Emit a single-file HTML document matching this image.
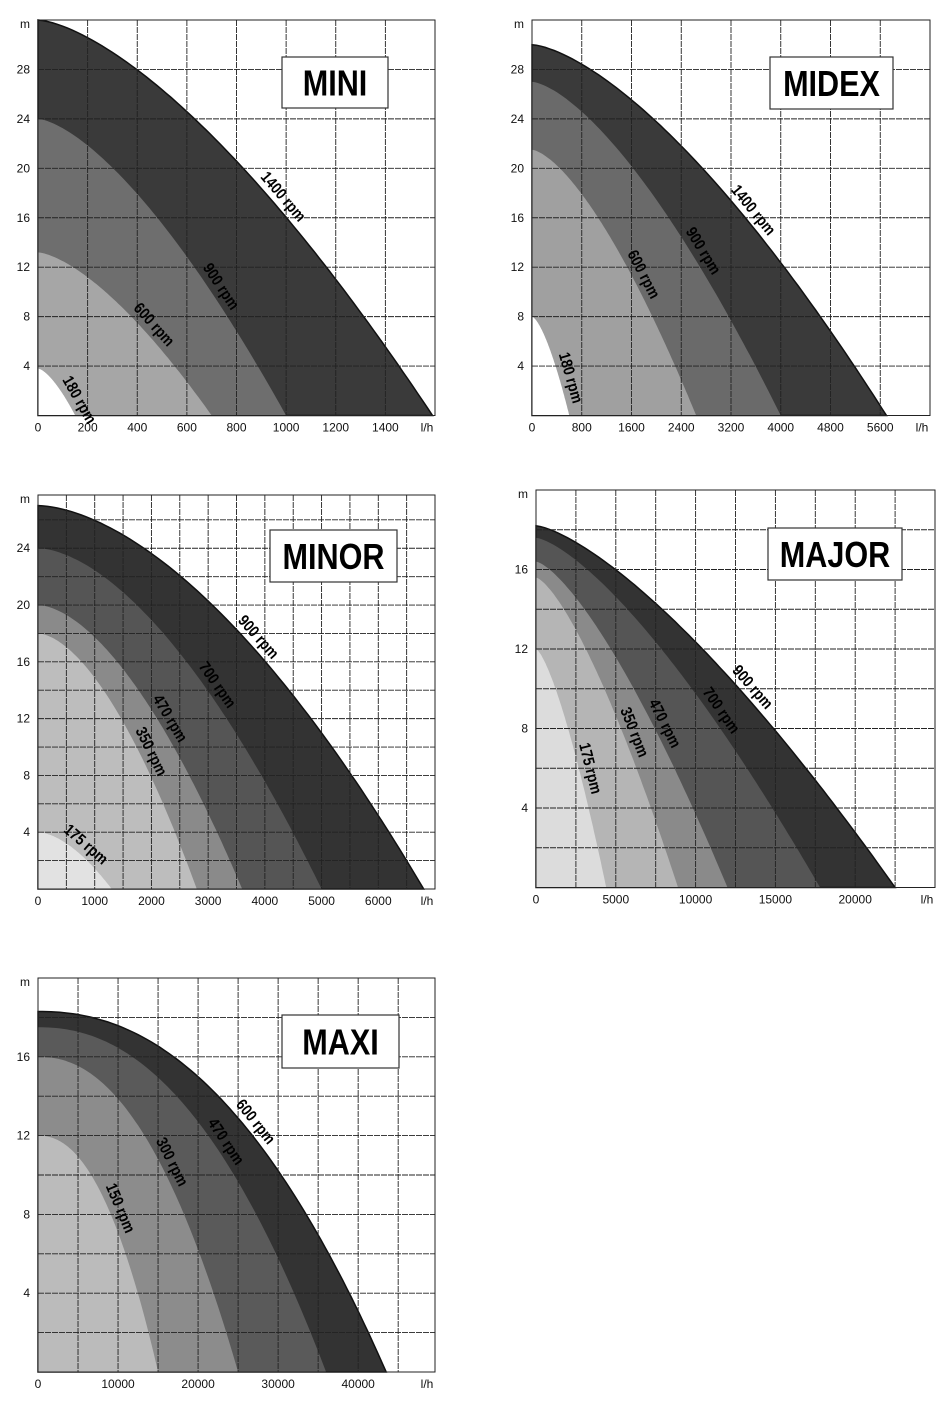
<!DOCTYPE html>
<html><head><meta charset="utf-8">
<style>
body{margin:0;background:#fff;}
svg{display:block;font-family:"Liberation Sans",sans-serif;}
.tick{font-size:12px;fill:#111;}
.rpm{font-size:16px;font-weight:bold;fill:#000;}
.title{font-size:36px;font-weight:bold;fill:#000;}
</style></head>
<body>
<svg id="chart" width="951" height="1407" viewBox="0 0 951 1407" xmlns="http://www.w3.org/2000/svg"></svg>
<script>
// ---- data ----
const chartNames = ["MINI","MIDEX","MINOR","MAJOR","MAXI"];
const miniRpm = ["1400 rpm","900 rpm","600 rpm","180 rpm"];
const miniHead = [32, 24, 13.2, 3.8];
const miniFlow = [1590, 1000, 700, 150];
const midexRpm = ["1400 rpm","900 rpm","600 rpm","180 rpm"];
const midexHead = [30, 27, 21.5, 8];
const midexFlow = [5700, 4000, 2640, 600];
const minorRpm = ["900 rpm","700 rpm","470 rpm","350 rpm","175 rpm"];
const minorHead = [27, 24, 20, 18, 4];
const minorFlow = [6800, 5000, 3600, 2800, 1300];
const majorRpm = ["900 rpm","700 rpm","470 rpm","350 rpm","175 rpm"];
const majorHead = [18.2, 17.6, 16.4, 15.6, 12];
const majorFlow = [22500, 17800, 12000, 8900, 4400];
const maxiRpm = ["600 rpm","470 rpm","300 rpm","150 rpm"];
const maxiHead = [18.3, 17.5, 16, 12];
const maxiFlow = [43500, 36000, 25000, 15000];
const miniXTicks = [0,200,400,600,800,1000,1200,1400];
const midexXTicks = [0,800,1600,2400,3200,4000,4800,5600];
const minorXTicks = [0,1000,2000,3000,4000,5000,6000];
const majorXTicks = [0,5000,10000,15000,20000];
const maxiXTicks = [0,10000,20000,30000,40000];
const miniYTicks = [4,8,12,16,20,24,28];
const minorYTicks = [4,8,12,16,20,24];
const majorYTicks = [4,8,12,16];
const maxiYTicks = [4,8,12,16];

// ---- layout ----
const NS="http://www.w3.org/2000/svg";
const svg=document.getElementById('chart');
function mk(tag,attrs,parent){const e=document.createElementNS(NS,tag);for(const k in attrs)e.setAttribute(k,attrs[k]);(parent||svg).appendChild(e);return e;}
const charts=[
 {name:chartNames[0],L:38,T:20,R:435,B:415.5,xmax:1600,ymax:32,gx:200,gy:4,xt:miniXTicks,yt:miniYTicks,rpm:miniRpm,H:miniHead,Q:miniFlow,p:1.5,
  fills:["#3a3a3a","#6e6e6e","#a6a6a6","#ffffff"],lt:[0.6,0.7,0.62,0.85],box:[282,57,106,51]},
 {name:chartNames[1],L:532,T:20,R:930,B:415.5,xmax:6400,ymax:32,gx:800,gy:4,xt:midexXTicks,yt:miniYTicks,rpm:midexRpm,H:midexHead,Q:midexFlow,p:1.5,
  fills:["#3a3a3a","#6a6a6a","#a0a0a0","#ffffff"],lt:[0.6,0.65,0.62,0.75],box:[770,57,123,52]},
 {name:chartNames[2],L:38,T:495,R:435,B:889,xmax:7000,ymax:27.75,gx:500,gy:2,xt:minorXTicks,yt:minorYTicks,rpm:minorRpm,H:minorHead,Q:minorFlow,p:1.7,
  fills:["#333333","#555555","#8a8a8a","#bdbdbd","#e2e2e2"],lt:[0.55,0.6,0.6,0.65,0.55],box:[270,530,127,52]},
 {name:chartNames[3],L:536,T:490,R:935,B:887.5,xmax:25000,ymax:20,gx:2500,gy:2,xt:majorXTicks,yt:majorYTicks,rpm:majorRpm,H:majorHead,Q:majorFlow,p:1.4,
  fills:["#333333","#555555","#8a8a8a","#b5b5b5","#dcdcdc"],lt:[0.58,0.62,0.62,0.62,0.62],box:[768,528,134,52]},
 {name:chartNames[4],L:38,T:978,R:435,B:1372,xmax:49600,ymax:20,gx:5000,gy:2,xt:maxiXTicks,yt:maxiYTicks,rpm:maxiRpm,H:maxiHead,Q:maxiFlow,p:2.2,
  fills:["#333333","#5a5a5a","#8c8c8c","#bbbbbb"],lt:[0.6,0.62,0.62,0.6],box:[282,1015,117,53]}
];
charts.forEach((c,ci)=>{
  const g=mk('g',{});
  
  
  const xs=v=>c.L+(v/c.xmax)*(c.R-c.L);
  const ys=v=>c.B-(v/c.ymax)*(c.B-c.T);
  const curve=(i,t)=>[c.Q[i]*t,c.H[i]*(1-Math.pow(t,c.p))];
  c.H.forEach((h,i)=>{
    let d=`M${xs(0)},${ys(0)}`;
    for(let k=0;k<=80;k++){const [q,hh]=curve(i,k/80);d+=` L${xs(q).toFixed(1)},${ys(hh).toFixed(1)}`;}
    d+=' Z';
    const p=mk('path',{d,fill:c.fills[i],stroke:i==0?'#111':'none','stroke-width':1.5},g);
    
    
  });
  for(let v=c.gx;v<=c.xmax+1;v+=c.gx){const l=mk('line',{x1:xs(v),y1:c.T,x2:xs(v),y2:c.B,stroke:'#222','stroke-width':0.9,'stroke-dasharray':'6 1'},g);
    }
  for(let v=c.gy;v<=c.ymax+0.01;v+=c.gy){const l=mk('line',{x1:c.L,y1:ys(v),x2:c.R,y2:ys(v),stroke:'#222','stroke-width':0.9,'stroke-dasharray':'6 1'},g);
    }
  mk('rect',{x:c.L,y:c.T,width:c.R-c.L,height:c.B-c.T,fill:'none',stroke:'#222','stroke-width':1},g);
  c.xt.forEach(v=>{const t=mk('text',{x:xs(v),y:c.B+16,'text-anchor':'middle',class:'tick'},g);t.textContent=v;
    });
  c.yt.forEach(v=>{const t=mk('text',{x:c.L-8,y:ys(v)+4,'text-anchor':'end',class:'tick'},g);t.textContent=v;
    });
  const m=mk('text',{x:c.L-8,y:c.T+8,'text-anchor':'end',class:'tick'},g);m.textContent='m';
  
  const u=mk('text',{x:c.R-8,y:c.B+16,'text-anchor':'middle',class:'tick'},g);u.textContent='l/h';
  
  c.H.forEach((h,i)=>{
    const t=c.lt[i];const [q,hh]=curve(i,t);const [q2,h2]=curve(i,t+0.01);
    const x1=xs(q),y1=ys(hh),x2=xs(q2),y2=ys(h2);
    const ang=Math.atan2(y2-y1,x2-x1);const nx=Math.sin(ang),ny=-Math.cos(ang);
    const px=x1+nx*11,py=y1+ny*11;
    const tx=mk('text',{x:0,y:5,'text-anchor':'middle',class:'rpm',transform:`translate(${px.toFixed(1)},${py.toFixed(1)}) rotate(${(ang*180/Math.PI).toFixed(1)}) scale(0.85,1)`},g);
    tx.textContent=c.rpm[i];
    
  });
  const b=c.box;
  const r=mk('rect',{x:b[0],y:b[1],width:b[2],height:b[3],fill:'#fff',stroke:'#333','stroke-width':1.2},g);
  
  const tt=mk('text',{x:0,y:0,'text-anchor':'middle',class:'title',transform:`translate(${b[0]+b[2]/2},${b[1]+b[3]/2+13}) scale(0.85,1)`},g);
  tt.textContent=c.name;
  
});
</script>
</body></html>
